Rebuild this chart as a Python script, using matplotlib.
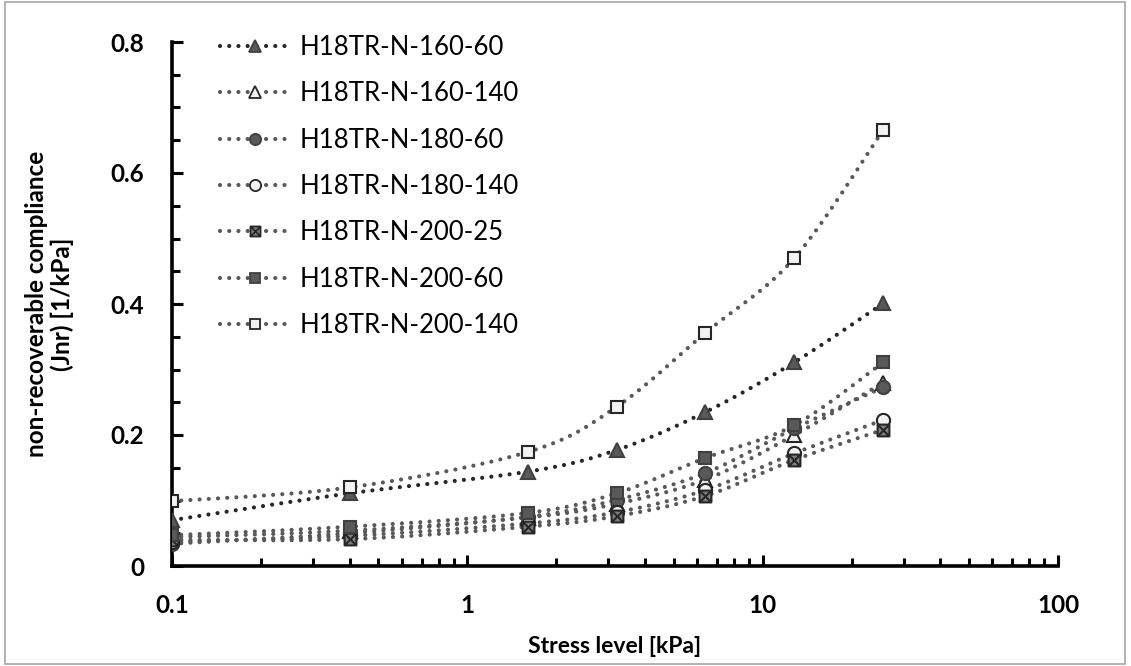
import matplotlib
matplotlib.use('Agg')
import matplotlib.pyplot as plt
import numpy as np
from matplotlib.path import Path
from matplotlib.lines import Line2D
from matplotlib.patches import Rectangle
from matplotlib.ticker import LogLocator, FixedLocator

plt.rcParams['font.family'] = ['Lato', 'DejaVu Sans']

# stress levels [kPa]
stress = [0.1, 0.4, 1.6, 3.2, 6.4, 12.8, 25.6]

labels = ['H18TR-N-160-60', 'H18TR-N-160-140', 'H18TR-N-180-60', 'H18TR-N-180-140',
          'H18TR-N-200-25', 'H18TR-N-200-60', 'H18TR-N-200-140']

jnr_160_60 = [0.070, 0.111, 0.144, 0.177, 0.235, 0.311, 0.401]
jnr_160_140 = [0.044, 0.054, 0.074, 0.095, 0.132, 0.200, 0.280]
jnr_180_60 = [0.034, 0.050, 0.075, 0.101, 0.142, 0.210, 0.273]
jnr_180_140 = [0.037, 0.046, 0.065, 0.082, 0.116, 0.172, 0.223]
jnr_200_25 = [0.040, 0.041, 0.060, 0.076, 0.107, 0.162, 0.208]
jnr_200_60 = [0.047, 0.060, 0.081, 0.111, 0.165, 0.215, 0.311]
jnr_200_140 = [0.099, 0.120, 0.174, 0.243, 0.356, 0.470, 0.666]

series = [jnr_160_60, jnr_160_140, jnr_180_60, jnr_180_140, jnr_200_25, jnr_200_60, jnr_200_140]

x_ticks = [0.1, 1, 10, 100]
x_ticklabels = ['0.1', '1', '10', '100']
y_ticks = [0, 0.2, 0.4, 0.6, 0.8]
y_ticklabels = ['0', '0.2', '0.4', '0.6', '0.8']

# square with an X through it
xsq = Path([(-1, -1), (1, -1), (1, 1), (-1, 1), (-1, -1),
            (-1, -1), (1, 1), (-1, 1), (1, -1)],
           [Path.MOVETO, Path.LINETO, Path.LINETO, Path.LINETO, Path.CLOSEPOLY,
            Path.MOVETO, Path.LINETO, Path.MOVETO, Path.LINETO])

dark = '#595959'
light = '#f2f2f2'
edge = '#262626'
styles = [
    dict(marker='^', mfc=dark, mec='#404040', ms=9.5, lc='#262626'),
    dict(marker='^', mfc=light, mec=edge, ms=9.5, lc='#595959'),
    dict(marker='o', mfc=dark, mec='#404040', ms=9.5, lc='#595959'),
    dict(marker='o', mfc=light, mec=edge, ms=9.5, lc='#595959'),
    dict(marker=xsq, mfc='#7f7f7f', mec=edge, ms=8.5, lc='#595959'),
    dict(marker='s', mfc=dark, mec='#404040', ms=9, lc='#595959'),
    dict(marker='s', mfc=light, mec=edge, ms=9, lc='#595959'),
]


def smooth(xs, ys, n=40):
    # bezier through the points in log-x space, like Excel's smoothed line
    lx = np.log10(xs)
    ys = np.asarray(ys, float)
    P = np.column_stack([lx, ys])
    out = []
    for i in range(len(P) - 1):
        p0 = P[i - 1] if i > 0 else P[i]
        p1, p2 = P[i], P[i + 1]
        p3 = P[i + 2] if i + 2 < len(P) else P[i + 1]
        c1 = p1 + (p2 - p0) / 6
        c2 = p2 - (p3 - p1) / 6
        t = np.linspace(0, 1, n)[:, None]
        seg = (1 - t) ** 3 * p1 + 3 * (1 - t) ** 2 * t * c1 + 3 * (1 - t) * t ** 2 * c2 + t ** 3 * p2
        out.append(seg if i == 0 else seg[1:])
    out = np.vstack(out)
    return 10 ** out[:, 0], out[:, 1]


W, H = 1131, 666
fig = plt.figure(figsize=(W / 100, H / 100), dpi=100)
ax = fig.add_axes([172 / W, 1 - 566 / H, (1058 - 172) / W, (566 - 42) / H])

dots = (0, (0.01, 2.2))
handles = []
for lab, ys, st in zip(labels, series, styles):
    sx, sy = smooth(stress, ys)
    ax.plot(sx, sy, color=st['lc'], lw=3, linestyle=dots, dash_capstyle='round', zorder=2)
    ax.plot(stress, ys, linestyle='none', marker=st['marker'], ms=st['ms'],
            mfc=st['mfc'], mec=st['mec'], mew=1.5, zorder=3)
    handles.append(Line2D([], [], color=st['lc'], lw=3, linestyle=dots, dash_capstyle='round',
                          marker=st['marker'], ms=st['ms'] * 0.85, mfc=st['mfc'], mec=st['mec'],
                          mew=1.3, label=lab))

ax.set_xscale('log')
ax.set_xlim(0.1, 100)
ax.set_ylim(0, 0.8)

ax.set_xticks(x_ticks, x_ticklabels, fontweight='bold', fontsize=17.5)
ax.xaxis.set_minor_locator(LogLocator(base=10, subs=np.arange(2, 10)))
ax.set_yticks(y_ticks, y_ticklabels, fontweight='bold', fontsize=17.5)
ax.yaxis.set_minor_locator(FixedLocator(np.arange(0.05, 0.8, 0.05)))

for s in ['top', 'right']:
    ax.spines[s].set_visible(False)
for s in ['left', 'bottom']:
    ax.spines[s].set_linewidth(2.6)
    ax.spines[s].set_color('black')

ax.tick_params(axis='both', which='major', direction='in', length=8, width=2.2, colors='black')
ax.tick_params(axis='both', which='minor', direction='in', length=6, width=2.2)
ax.tick_params(axis='y', which='major', pad=20)
ax.tick_params(axis='x', which='major', pad=20)

ax.set_xlabel('Stress level [kPa]', fontsize=16.5, fontweight='bold', labelpad=14)
ax.set_ylabel('non-recoverable compliance\n(Jnr) [1/kPa]', fontsize=17.5, fontweight='bold',
              labelpad=26, linespacing=1.15)

ax.legend(handles=handles, loc='upper left', bbox_to_anchor=(220 / W, 1 - 35 / H),
          bbox_transform=fig.transFigure, frameon=False, fontsize=18.5, handlelength=2.7,
          handletextpad=0.4, labelspacing=0.83, borderpad=0, borderaxespad=0, numpoints=1)

fig.patches.append(Rectangle((5 / W, 2 / H), (1125 - 5) / W, (664 - 2) / H,
                             transform=fig.transFigure, fill=False, edgecolor='#a6a6a6',
                             lw=1.2))

fig.savefig('out.png', dpi=100)
